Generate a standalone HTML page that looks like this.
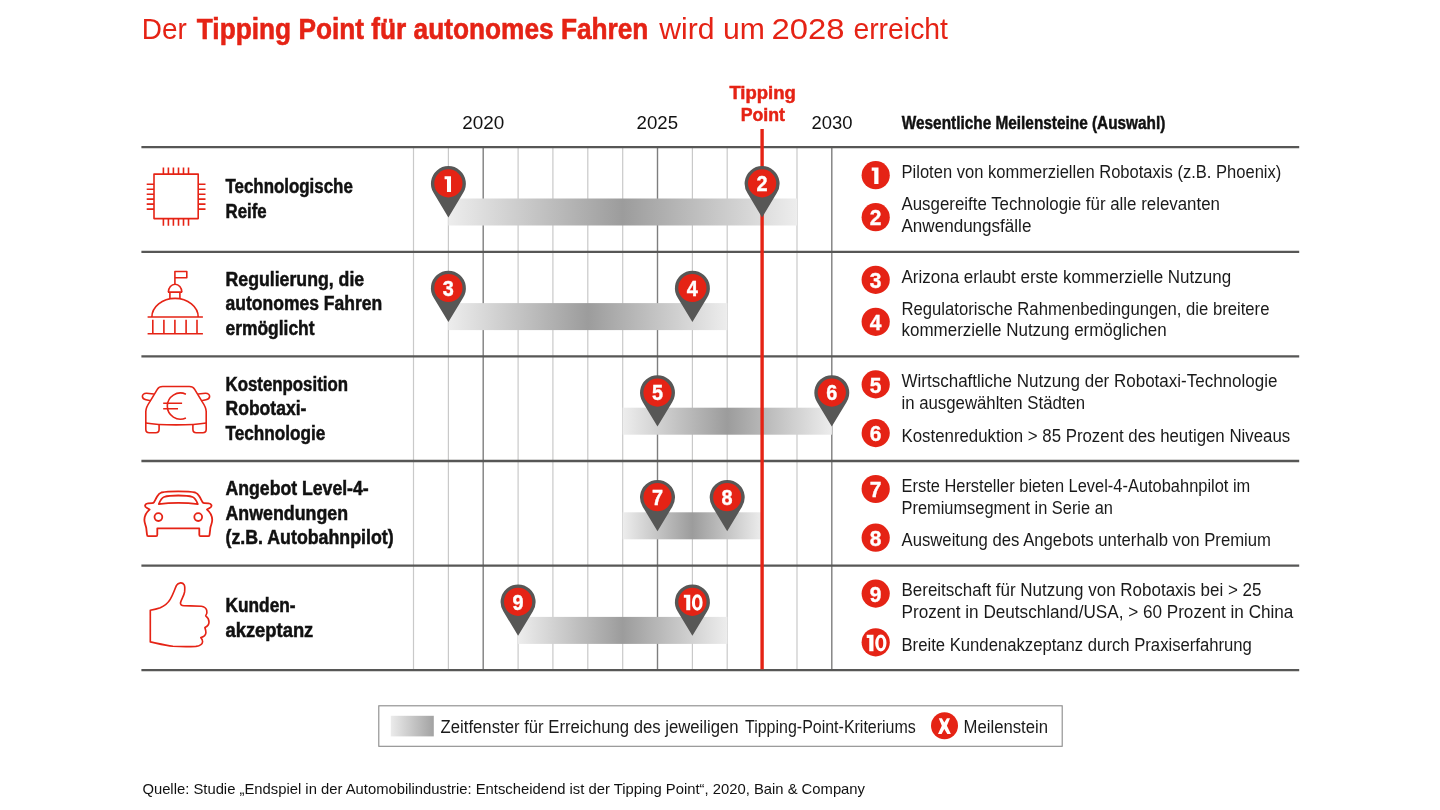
<!DOCTYPE html>
<html lang="de"><head><meta charset="utf-8"><title>Der Tipping Point für autonomes Fahren</title>
<style>html,body{margin:0;padding:0;background:#fff}body{width:1440px;height:810px;overflow:hidden;font-family:"Liberation Sans", sans-serif}svg{display:block;will-change:transform}text{font-family:"Liberation Sans", sans-serif}</style>
</head><body>
<svg width="1440" height="810" viewBox="0 0 1440 810">
<defs>
<linearGradient id="bar" x1="0" x2="1" y1="0" y2="0"><stop offset="0" stop-color="#ededed"/><stop offset="0.5" stop-color="#9c9c9c"/><stop offset="1" stop-color="#ededed"/></linearGradient>
<linearGradient id="leg" x1="0" x2="1" y1="0" y2="0"><stop offset="0" stop-color="#ebebeb"/><stop offset="1" stop-color="#a2a2a2"/></linearGradient>
</defs>
<rect width="1440" height="810" fill="#ffffff"/>
<text x="141.8" y="39.4" font-size="30" fill="#e52315" textLength="45.0" lengthAdjust="spacingAndGlyphs">Der</text>
<text x="196.8" y="39.4" font-size="30" font-weight="700" fill="#e52315" textLength="451.6" lengthAdjust="spacingAndGlyphs" stroke="#e52315" stroke-width="0.6">Tipping Point für autonomes Fahren</text>
<text x="659.3" y="39.4" font-size="30" fill="#e52315" textLength="105.5" lengthAdjust="spacingAndGlyphs">wird um</text>
<text x="771.6" y="39.4" font-size="30" fill="#e52315" textLength="73.0" lengthAdjust="spacingAndGlyphs">2028</text>
<text x="853.4" y="39.4" font-size="30" fill="#e52315" textLength="94.6" lengthAdjust="spacingAndGlyphs">erreicht</text>
<text x="462.2" y="128.7" font-size="18" fill="#111111" textLength="42.0" lengthAdjust="spacingAndGlyphs">2020</text>
<text x="636.6" y="128.7" font-size="18" fill="#111111" textLength="41.5" lengthAdjust="spacingAndGlyphs">2025</text>
<text x="811.5" y="128.7" font-size="18" fill="#111111" textLength="41.0" lengthAdjust="spacingAndGlyphs">2030</text>
<text x="729.4" y="98.7" font-size="18" font-weight="700" fill="#e52315" textLength="66.4" lengthAdjust="spacingAndGlyphs" stroke="#e52315" stroke-width="0.5">Tipping</text>
<text x="740.7" y="121.2" font-size="18" font-weight="700" fill="#e52315" textLength="44.3" lengthAdjust="spacingAndGlyphs" stroke="#e52315" stroke-width="0.5">Point</text>
<text x="901.8" y="128.6" font-size="17.5" font-weight="700" fill="#111111" textLength="263.6" lengthAdjust="spacingAndGlyphs" stroke="#111111" stroke-width="0.45">Wesentliche Meilensteine (Auswahl)</text>
<g stroke="#c9c9c9" stroke-width="1.2">
<line x1="413.5" y1="147.2" x2="413.5" y2="670.2"/>
<line x1="448.4" y1="147.2" x2="448.4" y2="670.2"/>
<line x1="518.1" y1="147.2" x2="518.1" y2="670.2"/>
<line x1="552.9" y1="147.2" x2="552.9" y2="670.2"/>
<line x1="587.8" y1="147.2" x2="587.8" y2="670.2"/>
<line x1="622.7" y1="147.2" x2="622.7" y2="670.2"/>
<line x1="692.4" y1="147.2" x2="692.4" y2="670.2"/>
<line x1="727.2" y1="147.2" x2="727.2" y2="670.2"/>
<line x1="797.0" y1="147.2" x2="797.0" y2="670.2"/>
</g>
<g stroke="#7e7e7e" stroke-width="1.4">
<line x1="483.2" y1="147.2" x2="483.2" y2="670.2"/>
<line x1="657.5" y1="147.2" x2="657.5" y2="670.2"/>
<line x1="831.8" y1="147.2" x2="831.8" y2="670.2"/>
</g>
<rect x="448.4" y="198.5" width="348.6" height="27.0" fill="url(#bar)"/>
<rect x="448.4" y="303.1" width="278.9" height="27.0" fill="url(#bar)"/>
<rect x="622.7" y="407.7" width="209.2" height="27.0" fill="url(#bar)"/>
<rect x="622.7" y="512.3" width="139.4" height="27.0" fill="url(#bar)"/>
<rect x="518.1" y="616.9" width="209.2" height="27.0" fill="url(#bar)"/>
<g stroke="#575756" stroke-width="2.3">
<line x1="141.4" y1="147.2" x2="1299.2" y2="147.2"/>
<line x1="141.4" y1="251.8" x2="1299.2" y2="251.8"/>
<line x1="141.4" y1="356.4" x2="1299.2" y2="356.4"/>
<line x1="141.4" y1="461.0" x2="1299.2" y2="461.0"/>
<line x1="141.4" y1="565.6" x2="1299.2" y2="565.6"/>
<line x1="141.4" y1="670.2" x2="1299.2" y2="670.2"/>
</g>
<line x1="762.1" y1="129" x2="762.1" y2="669.2" stroke="#e52315" stroke-width="3.4"/>
<g transform="translate(448.4 216.6)"><path d="M0 0.8L-14.7 -23.5A17.5 17.5 0 1 1 14.7 -23.5Z" fill="#575756"/><circle cx="0" cy="-33.2" r="14.1" fill="#e52315"/></g>
<path d="M444.56 176.23 L451.02 176.23 L451.02 191.91 L446.98 191.91 L446.98 179.27 L444.56 179.27Z" fill="#ffffff"/>
<g transform="translate(762.1 216.6)"><path d="M0 0.8L-14.7 -23.5A17.5 17.5 0 1 1 14.7 -23.5Z" fill="#575756"/><circle cx="0" cy="-33.2" r="14.1" fill="#e52315"/></g>
<text x="762.0" y="191.2" font-size="21.375" font-weight="700" fill="#ffffff" text-anchor="middle" stroke="#ffffff" stroke-width="0.4" textLength="11.05" lengthAdjust="spacingAndGlyphs">2</text>
<g transform="translate(448.4 321.2)"><path d="M0 0.8L-14.7 -23.5A17.5 17.5 0 1 1 14.7 -23.5Z" fill="#575756"/><circle cx="0" cy="-33.2" r="14.1" fill="#e52315"/></g>
<text x="448.3" y="295.9" font-size="21.375" font-weight="700" fill="#ffffff" text-anchor="middle" stroke="#ffffff" stroke-width="0.4" textLength="11.05" lengthAdjust="spacingAndGlyphs">3</text>
<g transform="translate(692.4 321.2)"><path d="M0 0.8L-14.7 -23.5A17.5 17.5 0 1 1 14.7 -23.5Z" fill="#575756"/><circle cx="0" cy="-33.2" r="14.1" fill="#e52315"/></g>
<text x="692.3" y="295.9" font-size="21.375" font-weight="700" fill="#ffffff" text-anchor="middle" stroke="#ffffff" stroke-width="0.4" textLength="11.05" lengthAdjust="spacingAndGlyphs">4</text>
<g transform="translate(657.5 425.8)"><path d="M0 0.8L-14.7 -23.5A17.5 17.5 0 1 1 14.7 -23.5Z" fill="#575756"/><circle cx="0" cy="-33.2" r="14.1" fill="#e52315"/></g>
<text x="657.4" y="400.4" font-size="21.375" font-weight="700" fill="#ffffff" text-anchor="middle" stroke="#ffffff" stroke-width="0.4" textLength="11.05" lengthAdjust="spacingAndGlyphs">5</text>
<g transform="translate(831.8 425.8)"><path d="M0 0.8L-14.7 -23.5A17.5 17.5 0 1 1 14.7 -23.5Z" fill="#575756"/><circle cx="0" cy="-33.2" r="14.1" fill="#e52315"/></g>
<text x="831.7" y="400.4" font-size="21.375" font-weight="700" fill="#ffffff" text-anchor="middle" stroke="#ffffff" stroke-width="0.4" textLength="11.05" lengthAdjust="spacingAndGlyphs">6</text>
<g transform="translate(657.5 530.4)"><path d="M0 0.8L-14.7 -23.5A17.5 17.5 0 1 1 14.7 -23.5Z" fill="#575756"/><circle cx="0" cy="-33.2" r="14.1" fill="#e52315"/></g>
<text x="657.4" y="505.0" font-size="21.375" font-weight="700" fill="#ffffff" text-anchor="middle" stroke="#ffffff" stroke-width="0.4" textLength="11.05" lengthAdjust="spacingAndGlyphs">7</text>
<g transform="translate(727.2 530.4)"><path d="M0 0.8L-14.7 -23.5A17.5 17.5 0 1 1 14.7 -23.5Z" fill="#575756"/><circle cx="0" cy="-33.2" r="14.1" fill="#e52315"/></g>
<text x="727.1" y="505.0" font-size="21.375" font-weight="700" fill="#ffffff" text-anchor="middle" stroke="#ffffff" stroke-width="0.4" textLength="11.05" lengthAdjust="spacingAndGlyphs">8</text>
<g transform="translate(518.1 635.0)"><path d="M0 0.8L-14.7 -23.5A17.5 17.5 0 1 1 14.7 -23.5Z" fill="#575756"/><circle cx="0" cy="-33.2" r="14.1" fill="#e52315"/></g>
<text x="518.0" y="609.6" font-size="21.375" font-weight="700" fill="#ffffff" text-anchor="middle" stroke="#ffffff" stroke-width="0.4" textLength="11.05" lengthAdjust="spacingAndGlyphs">9</text>
<g transform="translate(692.4 635.0)"><path d="M0 0.8L-14.7 -23.5A17.5 17.5 0 1 1 14.7 -23.5Z" fill="#575756"/><circle cx="0" cy="-33.2" r="14.1" fill="#e52315"/></g>
<path d="M683.83 594.63 L690.29 594.63 L690.29 610.30 L686.25 610.30 L686.25 597.67 L683.83 597.67Z" fill="#ffffff"/>
<path d="M691.91 602.51A5.37 7.98 0 1 0 702.64 602.51A5.37 7.98 0 1 0 691.91 602.51ZM694.99 602.51A2.28 4.94 0 1 0 699.55 602.51A2.28 4.94 0 1 0 694.99 602.51Z" fill="#ffffff" fill-rule="evenodd"/>
<text x="225.5" y="193.4" font-size="19.5" font-weight="700" fill="#111111" textLength="127.3" lengthAdjust="spacingAndGlyphs" stroke="#111111" stroke-width="0.5">Technologische</text>
<text x="225.5" y="218.4" font-size="19.5" font-weight="700" fill="#111111" textLength="41.1" lengthAdjust="spacingAndGlyphs" stroke="#111111" stroke-width="0.5">Reife</text>
<text x="225.5" y="285.9" font-size="19.5" font-weight="700" fill="#111111" textLength="138.7" lengthAdjust="spacingAndGlyphs" stroke="#111111" stroke-width="0.5">Regulierung, die</text>
<text x="225.5" y="310.4" font-size="19.5" font-weight="700" fill="#111111" textLength="156.8" lengthAdjust="spacingAndGlyphs" stroke="#111111" stroke-width="0.5">autonomes Fahren</text>
<text x="225.5" y="335.0" font-size="19.5" font-weight="700" fill="#111111" textLength="89.0" lengthAdjust="spacingAndGlyphs" stroke="#111111" stroke-width="0.5">ermöglicht</text>
<text x="225.5" y="390.5" font-size="19.5" font-weight="700" fill="#111111" textLength="122.5" lengthAdjust="spacingAndGlyphs" stroke="#111111" stroke-width="0.5">Kostenposition</text>
<text x="225.5" y="415.2" font-size="19.5" font-weight="700" fill="#111111" textLength="80.9" lengthAdjust="spacingAndGlyphs" stroke="#111111" stroke-width="0.5">Robotaxi-</text>
<text x="225.5" y="439.9" font-size="19.5" font-weight="700" fill="#111111" textLength="99.9" lengthAdjust="spacingAndGlyphs" stroke="#111111" stroke-width="0.5">Technologie</text>
<text x="225.5" y="495.3" font-size="19.5" font-weight="700" fill="#111111" textLength="143.2" lengthAdjust="spacingAndGlyphs" stroke="#111111" stroke-width="0.5">Angebot Level-4-</text>
<text x="225.5" y="519.7" font-size="19.5" font-weight="700" fill="#111111" textLength="122.5" lengthAdjust="spacingAndGlyphs" stroke="#111111" stroke-width="0.5">Anwendungen</text>
<text x="225.5" y="544.1" font-size="19.5" font-weight="700" fill="#111111" textLength="168.1" lengthAdjust="spacingAndGlyphs" stroke="#111111" stroke-width="0.5">(z.B. Autobahnpilot)</text>
<text x="225.5" y="612.0" font-size="19.5" font-weight="700" fill="#111111" textLength="70.1" lengthAdjust="spacingAndGlyphs" stroke="#111111" stroke-width="0.5">Kunden-</text>
<text x="225.5" y="636.7" font-size="19.5" font-weight="700" fill="#111111" textLength="87.8" lengthAdjust="spacingAndGlyphs" stroke="#111111" stroke-width="0.5">akzeptanz</text>
<circle cx="875.7" cy="175.2" r="14.1" fill="#e52315"/>
<path d="M871.70 167.60 L878.50 167.60 L878.50 184.10 L874.25 184.10 L874.25 170.80 L871.70 170.80Z" fill="#ffffff"/>
<circle cx="875.7" cy="217.2" r="14.1" fill="#e52315"/>
<text x="875.6" y="225.4" font-size="22.5" font-weight="700" fill="#ffffff" text-anchor="middle" stroke="#ffffff" stroke-width="0.4" textLength="11.63" lengthAdjust="spacingAndGlyphs">2</text>
<text x="901.5" y="178.4" font-size="17.5" fill="#1a1a1a" textLength="379.8" lengthAdjust="spacingAndGlyphs">Piloten von kommerziellen Robotaxis (z.B. Phoenix)</text>
<text x="901.5" y="210.2" font-size="17.5" fill="#1a1a1a" textLength="318.4" lengthAdjust="spacingAndGlyphs">Ausgereifte Technologie für alle relevanten</text>
<text x="901.5" y="231.8" font-size="17.5" fill="#1a1a1a" textLength="129.9" lengthAdjust="spacingAndGlyphs">Anwendungsfälle</text>
<circle cx="875.7" cy="279.8" r="14.1" fill="#e52315"/>
<text x="875.6" y="288.0" font-size="22.5" font-weight="700" fill="#ffffff" text-anchor="middle" stroke="#ffffff" stroke-width="0.4" textLength="11.63" lengthAdjust="spacingAndGlyphs">3</text>
<circle cx="875.7" cy="321.8" r="14.1" fill="#e52315"/>
<text x="875.6" y="330.0" font-size="22.5" font-weight="700" fill="#ffffff" text-anchor="middle" stroke="#ffffff" stroke-width="0.4" textLength="11.63" lengthAdjust="spacingAndGlyphs">4</text>
<text x="901.5" y="283.0" font-size="17.5" fill="#1a1a1a" textLength="329.6" lengthAdjust="spacingAndGlyphs">Arizona erlaubt erste kommerzielle Nutzung</text>
<text x="901.5" y="314.8" font-size="17.5" fill="#1a1a1a" textLength="367.9" lengthAdjust="spacingAndGlyphs">Regulatorische Rahmenbedingungen, die breitere</text>
<text x="901.5" y="336.4" font-size="17.5" fill="#1a1a1a" textLength="265.1" lengthAdjust="spacingAndGlyphs">kommerzielle Nutzung ermöglichen</text>
<circle cx="875.7" cy="384.4" r="14.1" fill="#e52315"/>
<text x="875.6" y="392.6" font-size="22.5" font-weight="700" fill="#ffffff" text-anchor="middle" stroke="#ffffff" stroke-width="0.4" textLength="11.63" lengthAdjust="spacingAndGlyphs">5</text>
<circle cx="875.7" cy="433.1" r="14.1" fill="#e52315"/>
<text x="875.6" y="441.3" font-size="22.5" font-weight="700" fill="#ffffff" text-anchor="middle" stroke="#ffffff" stroke-width="0.4" textLength="11.63" lengthAdjust="spacingAndGlyphs">6</text>
<text x="901.5" y="387.2" font-size="17.5" fill="#1a1a1a" textLength="375.9" lengthAdjust="spacingAndGlyphs">Wirtschaftliche Nutzung der Robotaxi-Technologie</text>
<text x="901.5" y="409.2" font-size="17.5" fill="#1a1a1a" textLength="183.6" lengthAdjust="spacingAndGlyphs">in ausgewählten Städten</text>
<text x="901.5" y="441.6" font-size="17.5" fill="#1a1a1a" textLength="388.7" lengthAdjust="spacingAndGlyphs">Kostenreduktion &gt; 85 Prozent des heutigen Niveaus</text>
<circle cx="875.7" cy="489.0" r="14.1" fill="#e52315"/>
<text x="875.6" y="497.2" font-size="22.5" font-weight="700" fill="#ffffff" text-anchor="middle" stroke="#ffffff" stroke-width="0.4" textLength="11.63" lengthAdjust="spacingAndGlyphs">7</text>
<circle cx="875.7" cy="537.7" r="14.1" fill="#e52315"/>
<text x="875.6" y="545.9" font-size="22.5" font-weight="700" fill="#ffffff" text-anchor="middle" stroke="#ffffff" stroke-width="0.4" textLength="11.63" lengthAdjust="spacingAndGlyphs">8</text>
<text x="901.5" y="491.8" font-size="17.5" fill="#1a1a1a" textLength="348.8" lengthAdjust="spacingAndGlyphs">Erste Hersteller bieten Level-4-Autobahnpilot im</text>
<text x="901.5" y="513.8" font-size="17.5" fill="#1a1a1a" textLength="211.4" lengthAdjust="spacingAndGlyphs">Premiumsegment in Serie an</text>
<text x="901.5" y="546.2" font-size="17.5" fill="#1a1a1a" textLength="369.5" lengthAdjust="spacingAndGlyphs">Ausweitung des Angebots unterhalb von Premium</text>
<circle cx="875.7" cy="593.6" r="14.1" fill="#e52315"/>
<text x="875.6" y="601.8" font-size="22.5" font-weight="700" fill="#ffffff" text-anchor="middle" stroke="#ffffff" stroke-width="0.4" textLength="11.63" lengthAdjust="spacingAndGlyphs">9</text>
<circle cx="875.7" cy="642.3" r="14.1" fill="#e52315"/>
<path d="M866.70 634.70 L873.50 634.70 L873.50 651.20 L869.25 651.20 L869.25 637.90 L866.70 637.90Z" fill="#ffffff"/>
<path d="M875.20 643.00A5.65 8.40 0 1 0 886.50 643.00A5.65 8.40 0 1 0 875.20 643.00ZM878.45 643.00A2.40 5.20 0 1 0 883.25 643.00A2.40 5.20 0 1 0 878.45 643.00Z" fill="#ffffff" fill-rule="evenodd"/>
<text x="901.5" y="596.4" font-size="17.5" fill="#1a1a1a" textLength="359.9" lengthAdjust="spacingAndGlyphs">Bereitschaft für Nutzung von Robotaxis bei &gt; 25</text>
<text x="901.5" y="618.4" font-size="17.5" fill="#1a1a1a" textLength="391.9" lengthAdjust="spacingAndGlyphs">Prozent in Deutschland/USA, &gt; 60 Prozent in China</text>
<text x="901.5" y="650.8" font-size="17.5" fill="#1a1a1a" textLength="350.4" lengthAdjust="spacingAndGlyphs">Breite Kundenakzeptanz durch Praxiserfahrung</text>
<rect x="378.8" y="705.8" width="683.4" height="40.5" fill="#fff" stroke="#8a8a8a" stroke-width="1.1"/>
<rect x="390.8" y="715.8" width="43" height="20.6" fill="url(#leg)"/>
<text x="440.6" y="732.5" font-size="17.5" fill="#1a1a1a" textLength="298.0" lengthAdjust="spacingAndGlyphs">Zeitfenster für Erreichung des jeweiligen</text>
<text x="745.0" y="732.5" font-size="17.5" fill="#1a1a1a" textLength="170.8" lengthAdjust="spacingAndGlyphs">Tipping-Point-Kriteriums</text>
<circle cx="944.5" cy="725.8" r="13.5" fill="#e52315"/>
<path d="M938.8 718.2H941.9L944.3 722.4L946.9 718.2H950L946.9 725.7L950.9 734.1H947.3L944.3 728.9L941.6 734.1H938L941.8 725.7Z" fill="#ffffff"/>
<text x="963.5" y="732.5" font-size="17.5" fill="#1a1a1a" textLength="84.5" lengthAdjust="spacingAndGlyphs">Meilenstein</text>
<text x="142.4" y="793.8" font-size="14.8" fill="#111111" textLength="722.6" lengthAdjust="spacingAndGlyphs">Quelle: Studie „Endspiel in der Automobilindustrie: Entscheidend ist der Tipping Point“, 2020, Bain &amp; Company</text>
<g fill="none" stroke="#e52315" stroke-width="1.6" stroke-linejoin="round" stroke-linecap="butt">
<rect x="154.0" y="174.1" width="44.2" height="44.5"/>
<path d="M163.4 167.5V174.1M163.4 218.6V225.8M168.4 167.5V174.1M168.4 218.6V225.8M173.4 167.5V174.1M173.4 218.6V225.8M178.5 167.5V174.1M178.5 218.6V225.8M183.5 167.5V174.1M183.5 218.6V225.8M188.5 167.5V174.1M188.5 218.6V225.8M146.7 184.2H154M198.2 184.2H205.5M146.7 189.2H154M198.2 189.2H205.5M146.7 194.2H154M198.2 194.2H205.5M146.7 199.1H154M198.2 199.1H205.5M146.7 204.1H154M198.2 204.1H205.5M146.7 209.1H154M198.2 209.1H205.5"/>
<path d="M147.6 333.8H202.9M147.6 317H202.9"/>
<path d="M152.8 319.8V333.8M163.9 319.8V333.8M174.9 319.8V333.8M186.1 319.8V333.8M197 319.8V333.8"/>
<path d="M151.9 317A23.15 18.6 0 0 1 198.2 317"/>
<path d="M169.9 298.6V292.1M179.9 298.6V292.1M167.9 292.1H182.2"/>
<path d="M168.4 292.1A6.7 7.8 0 0 1 181.8 292.1"/>
<path d="M174.9 284.4V271.5H186.8V277.7H174.9"/>
<path d="M 206.20 423.00 L 206.20 411.50 C 206.20 407.60 204.60 405.20 202.10 401.60 L 195.90 391.30 L 194.70 389.30 C 193.60 387.50 192.10 386.50 189.40 386.50 L 176.00 386.50 L 162.60 386.50 C 159.90 386.50 158.40 387.50 157.30 389.30 L 156.10 391.30 L 149.90 401.60 C 147.40 405.20 145.80 407.60 145.80 411.50 L 145.80 423.00"/>
<path d="M 153.9 394.0 L 146.6 393.3 C 143.8 393.2 142.3 394.8 142.4 396.6 C 142.5 398.2 143.8 399.2 146 399.7 L 150.6 400.8"/>
<path d="M 198.10 394.00 L 205.40 393.30 C 208.20 393.20 209.70 394.80 209.60 396.60 C 209.50 398.20 208.20 399.20 206.00 399.70 L 201.40 400.80"/>
<path d="M 145.8 423 V 429.2 C 145.8 431.5 147 432.7 149.2 432.7 H 155.8 C 158 432.7 159.1 431.4 159.1 429.2 V 424.6"/>
<path d="M 206.20 423.00 V 429.20 C 206.20 431.50 205.00 432.70 202.80 432.70 H 196.20 C 194.00 432.70 192.90 431.40 192.90 429.20 V 424.60"/>
<path d="M145.8 423C160 425.5 192 425.5 206.2 423"/>
<path d="M185.9 394.2A13.1 13.1 0 1 0 185.9 418.0"/>
<path d="M163.2 403.3H182.1M163.2 408.7H178"/>
</g>
<g fill="none" stroke="#e52315" stroke-width="1.8" stroke-linejoin="round" stroke-linecap="round">
<path d="M 178.30 528.40 L 157.30 528.40 L 157.30 534.80 C 157.30 535.70 156.90 536.20 156.10 536.20 L 148.20 536.20 C 147.40 536.20 147.00 535.70 147.00 534.60 L 146.20 527.70 C 145.60 525.00 144.20 522.50 144.40 519.60 C 144.60 515.50 146.60 512.00 149.60 509.60 L 146.60 507.70 C 144.00 506.40 145.00 503.50 148.00 503.40 L 152.10 503.20 C 153.00 503.20 153.60 503.00 154.00 502.30 C 155.00 500.50 156.10 498.20 157.30 496.20 C 158.30 494.50 159.60 493.20 161.40 492.50 C 164.60 491.80 170.60 491.40 178.30 491.40 C 186.00 491.40 192.00 491.80 195.20 492.50 C 197.00 493.20 198.30 494.50 199.30 496.20 C 200.50 498.20 201.60 500.50 202.60 502.30 C 203.00 503.00 203.60 503.20 204.50 503.20 L 208.60 503.40 C 211.60 503.50 212.60 506.40 210.00 507.70 L 207.00 509.60 C 210.00 512.00 212.00 515.50 212.20 519.60 C 212.40 522.50 211.00 525.00 210.40 527.70 L 209.60 534.60 C 209.60 535.70 209.20 536.20 208.40 536.20 L 200.50 536.20 C 199.70 536.20 199.30 535.70 199.30 534.80 L 199.30 528.40 L 178.30 528.40 Z"/>
<path d="M 178.30 502.90 C 172.60 502.90 165.60 503.20 158.80 504.10 C 160.00 501.00 161.60 498.00 164.00 497.00 C 167.10 496.00 172.60 495.50 178.30 495.50 C 184.00 495.50 189.50 496.00 192.60 497.00 C 195.00 498.00 196.60 501.00 197.80 504.10 C 191.00 503.20 184.00 502.90 178.30 502.90 Z"/>
<circle cx="158.4" cy="517.1" r="3.9"/><circle cx="198.2" cy="517.1" r="3.9"/>
</g>
<g fill="none" stroke="#e52315" stroke-width="1.65" stroke-linejoin="round" transform="translate(0.4 0.4)">
<path d="M149.900 609.900V641.500C158 643.200 165 645 172.500 645.800C180 646.300 189 646.300 195.500 646C199 645.500 202 643.500 202.200 641.300C202.300 639.500 201.200 638 200.400 637.200C203.600 636.300 205.400 634.600 205.500 632.400C205.600 630.400 205 628.600 204.500 627.200C207.300 626 208.600 624 208.600 621.700C208.600 619.200 207.300 617 205.300 615.500C206.600 613.600 206.900 611.600 206.300 609.800C205.500 607.500 203.500 606.100 201 605.800C195 605.300 189 605.600 183.500 605.400C181 605.300 179.800 604 180.100 602.300C181 598.500 183.600 595.500 184.200 591.500C184.500 588.500 184.600 586 183.800 584.500C182.900 583 181.500 582.400 180.200 582.500C178.300 582.700 176.900 583.500 176.100 585C174 589.500 172.500 594.500 169.800 599C167.500 602.800 164 605.600 159.900 607.300C156.500 608.500 153 609.300 149.900 609.900Z"/>
</g>

</svg>
</body></html>
